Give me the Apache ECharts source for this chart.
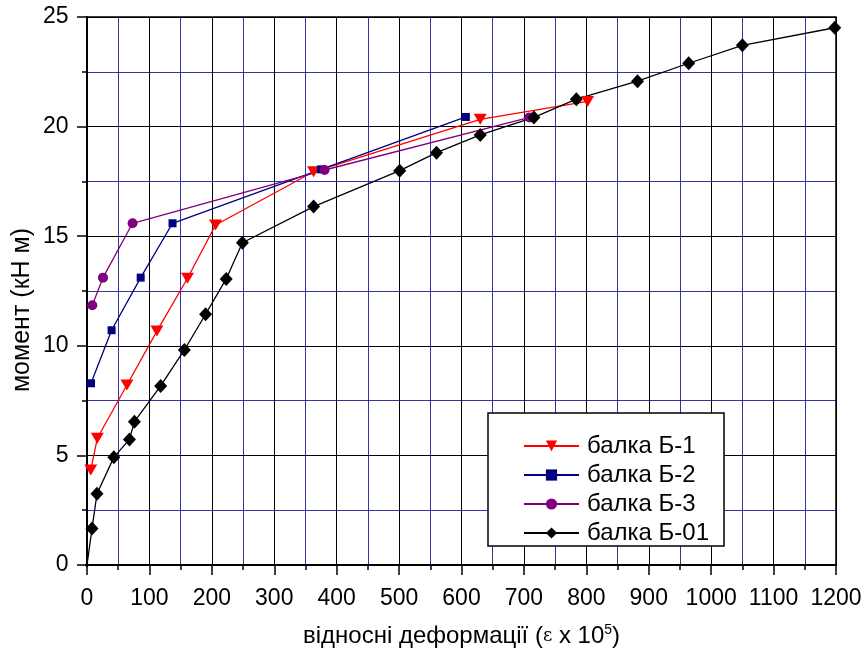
<!DOCTYPE html>
<html>
<head>
<meta charset="utf-8">
<script src="https://cdn.jsdelivr.net/npm/echarts@6/dist/echarts.min.js"></script>
<style>
  html, body { margin: 0; padding: 0; background: #fff; }
  #chart { width: 863px; height: 654px; }
</style>
</head>
<body>
<div id="chart"></div>
<script>
// Moment vs. relative strain for four test beams
const seriesNames = ['балка Б-1', 'балка Б-2', 'балка Б-3', 'балка Б-01'];

const b1Strain = [6, 16.5, 64, 112, 161, 206, 363, 630, 802];
const b1Moment = [4.33, 5.78, 8.21, 10.67, 13.08, 15.51, 17.94, 20.33, 21.15];

const b2Strain = [6.4, 39.4, 86, 137, 375, 607];
const b2Moment = [8.29, 10.71, 13.11, 15.59, 18.05, 20.44];

const b3Strain = [8.5, 25.6, 73, 380.6, 709];
const b3Moment = [11.85, 13.11, 15.59, 18.02, 20.42];

const b01Strain = [0, 8, 16, 43, 68, 76, 118, 156, 190, 223, 249, 363, 501, 560, 630, 716, 784, 882, 964, 1050, 1198];
const b01Moment = [0, 1.66, 3.25, 4.91, 5.73, 6.54, 8.17, 9.81, 11.44, 13.05, 14.70, 16.35, 17.99, 18.81, 19.62, 20.42, 21.25, 22.07, 22.89, 23.71, 24.51];

const xTicks = { min: 0, max: 1200, step: 100 };
const yTicks = { min: 0, max: 25, step: 5 };

function pairs(xs, ys) {
  return xs.map((x, i) => [x, ys[i]]);
}

const FONT = '"Liberation Sans", Arial, sans-serif';
const MAJOR = '#000000';
const MINOR = 'rgba(0,0,140,0.8)';

const chart = echarts.init(document.getElementById('chart'), null, { renderer: 'canvas' });

function axisCommon(t, margin) {
  return {
    type: 'value',
    min: t.min,
    max: t.max,
    interval: t.step,
    axisLine: { show: true, onZero: false, lineStyle: { color: '#000', width: 2 } },
    axisTick: { show: true, inside: false, length: 10, lineStyle: { color: '#000', width: 1.5 } },
    minorTick: { show: true, splitNumber: 2, length: 5, lineStyle: { color: '#000', width: 1.5 } },
    splitLine: { show: true, lineStyle: { color: MAJOR, width: 1 } },
    minorSplitLine: { show: true, lineStyle: { color: MINOR, width: 1 } },
    axisLabel: {
      color: '#000', fontFamily: FONT, fontSize: 23, margin: margin,
      formatter: (v) => String(v)
    }
  };
}

const lineSeries = (name, data, color, symbol, size, extra) => Object.assign({
  name: name,
  type: 'line',
  data: data,
  symbol: symbol,
  symbolSize: size,
  showAllSymbol: true,
  clip: true,
  lineStyle: { color: color, width: 1.3 },
  itemStyle: { color: color },
  emphasis: { disabled: true },
  animation: false
}, extra || {});

// the origin point sits on the axis corner, so its marker is drawn small
const b01Data = pairs(b01Strain, b01Moment).map((p, i) =>
  i === 0 ? { value: p, symbolSize: 5 } : p
);

chart.setOption({
  backgroundColor: '#fff',
  animation: false,
  grid: {
    left: 87, right: 27, top: 17, bottom: 89,
    containLabel: false,
    outerBoundsMode: 'none',
    show: true, borderColor: '#000', borderWidth: 1.5, backgroundColor: 'transparent'
  },
  xAxis: Object.assign(axisCommon(xTicks, 22), {
    name: '{t|відносні деформації (}{e|ε}{t| x 10}{s|5}{t|)}',
    nameLocation: 'middle',
    nameGap: 58,
    nameTextStyle: {
      rich: {
        t: { fontFamily: FONT, fontSize: 24, color: '#000' },
        e: { fontFamily: '"DejaVu Serif", serif', fontSize: 18, color: '#000' },
        s: { fontFamily: FONT, fontSize: 14, color: '#000', verticalAlign: 'top', padding: [0, 0, 13, 0] }
      }
    }
  }),
  yAxis: axisCommon(yTicks, 18.5),
  legend: {
    orient: 'vertical',
    left: 488,
    top: 413,
    data: seriesNames,
    itemWidth: 55,
    itemHeight: 14,
    itemGap: 5,
    padding: [21, 15, 1, 35],
    borderColor: '#000',
    borderWidth: 1.5,
    backgroundColor: '#fff',
    textStyle: { fontFamily: FONT, fontSize: 24, color: '#000', lineHeight: 24, padding: [0, 0, 0, 3] },
    selectedMode: false
  },
  graphic: [{
    type: 'text',
    x: 22, y: 310,
    rotation: Math.PI / 2,
    style: {
      text: 'момент (кН м)',
      font: '25px ' + FONT,
      fill: '#000',
      align: 'center',
      verticalAlign: 'middle'
    }
  }],
  series: [
    lineSeries(seriesNames[0], pairs(b1Strain, b1Moment), '#ff0000', 'triangle', [13, 11], { symbolRotate: 180 }),
    lineSeries(seriesNames[1], pairs(b2Strain, b2Moment), '#000080', 'rect', 8),
    lineSeries(seriesNames[2], pairs(b3Strain, b3Moment), '#800080', 'circle', 10),
    lineSeries(seriesNames[3], b01Data, '#000000', 'diamond', [13, 14])
  ]
});
</script>
</body>
</html>
